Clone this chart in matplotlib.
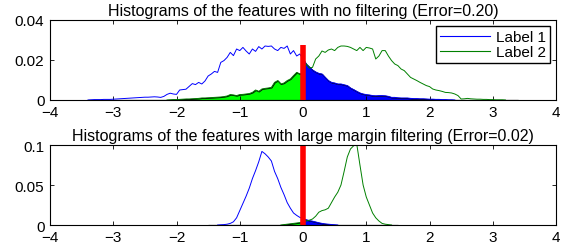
import numpy as np
import matplotlib
matplotlib.use('Agg')
import matplotlib.pyplot as plt
from matplotlib.lines import Line2D

plt.rcParams['font.family'] = ['Liberation Sans', 'DejaVu Sans']
plt.rcParams['font.size'] = 11

# bin centres
x_top = np.round(np.arange(-3.4, 3.4001, 0.05), 2)
x_bot = np.round(np.arange(-1.5, 1.5001, 0.05), 2)

# top panel: no filtering
label1_top = [0, 0.0001, 0.0002, 0.0002, 0.0002, 0.0003, 0.0003, 0.0003, 0.0004, 0.0005,
              0.0006, 0.0007, 0.0008, 0.0009, 0.001, 0.0011, 0.0012, 0.0013, 0.0014, 0.0014,
              0.0015, 0.0016, 0.0015,
              0.0013, 0.0018, 0.0028, 0.0034, 0.003, 0.0028, 0.005, 0.0052, 0.0054, 0.0068,
              0.0082, 0.0077, 0.0088, 0.008, 0.0095, 0.012, 0.013, 0.0143, 0.0138, 0.0188,
              0.0197, 0.0213, 0.0238, 0.0222, 0.0255, 0.0247, 0.0263, 0.0245, 0.023, 0.0255,
              0.0243, 0.0267, 0.0255, 0.027, 0.0268, 0.027, 0.0255, 0.0247, 0.0263, 0.0258,
              0.027, 0.023, 0.0247, 0.022, 0.023, 0.0205,
              0.018, 0.0165, 0.015, 0.014, 0.0133, 0.013, 0.0113, 0.0097, 0.0088, 0.0085,
              0.008, 0.008, 0.0076, 0.0072, 0.006, 0.0052, 0.0043, 0.0035, 0.003, 0.0027,
              0.0025, 0.0022, 0.0021, 0.0022, 0.0022, 0.0021, 0.0018, 0.0013, 0.0013, 0.0011,
              0.001, 0.001, 0.001, 0.0008, 0.0007, 0.0007, 0.0006, 0.0006, 0.0005, 0.0004,
              0.0004, 0.0003, 0.0003, 0.0002, 0.0002, 0.0001, 0.0001,
              0, 0, 0, 0, 0, 0, 0, 0, 0, 0, 0, 0, 0, 0, 0, 0, 0, 0, 0, 0, 0]
label2_top = [0] * 26 + [
              0.0001, 0.0002, 0.0002, 0.0003, 0.0004, 0.0005, 0.0005, 0.0006, 0.0007, 0.0008,
              0.001, 0.001, 0.0011, 0.0012, 0.0013, 0.0014, 0.0015, 0.0017, 0.002, 0.0027,
              0.0025, 0.0022, 0.0027, 0.0028, 0.003, 0.0032, 0.0038, 0.005, 0.0043, 0.0055,
              0.0058, 0.006, 0.0063, 0.0088, 0.0097, 0.008, 0.0085, 0.0097, 0.0105, 0.0122,
              0.0138, 0.013, 0.0138,
              0.018, 0.016, 0.0163, 0.0205, 0.022, 0.0245, 0.0238, 0.025, 0.0255, 0.0247,
              0.0263, 0.027, 0.027, 0.0268, 0.0263, 0.0255, 0.0247, 0.0263, 0.0247, 0.0263,
              0.026, 0.0255, 0.0205, 0.022, 0.0247, 0.0247, 0.022, 0.0197, 0.018, 0.0172,
              0.0155, 0.0147, 0.013, 0.0113, 0.0105, 0.0097, 0.0088, 0.008, 0.0072, 0.0067,
              0.0055, 0.005, 0.0047, 0.0043, 0.0038, 0.0037, 0.0035, 0.003, 0.0022, 0.0005,
              0.0006, 0.0008, 0.0006, 0.0005, 0.0004, 0.0004, 0.0003, 0.0003, 0.0002, 0.0002,
              0.0001, 0.0001, 0.0001, 0, 0, 0, 0, 0]

# bottom panel: large margin filtering
label1_bot = [0, 0, 0, 0, 0.0003, 0.0005, 0.001, 0.002, 0.004, 0.009,
              0.018, 0.027, 0.036, 0.046, 0.058, 0.068, 0.079, 0.092, 0.089, 0.085,
              0.080, 0.067, 0.058, 0.047, 0.038, 0.028, 0.021, 0.015, 0.012, 0.0095,
              0.008, 0.0066, 0.0055, 0.0048, 0.0038, 0.0028, 0.002, 0.0014, 0.001, 0.0006,
              0.0003] + [0] * 20
label2_bot = [0] * 24 + [
              0.0005, 0.001, 0.0015, 0.002, 0.0025, 0.003, 0.004, 0.005, 0.006, 0.0075,
              0.011, 0.016, 0.018, 0.019, 0.021, 0.028, 0.035, 0.041, 0.05, 0.067,
              0.085, 0.095, 0.099, 0.101, 0.075, 0.05, 0.035, 0.025, 0.015, 0.009,
              0.005, 0.002, 0.001, 0.0005, 0, 0, 0]

panels = [
    (x_top, label1_top, label2_top, 0.04, [0, 0.02, 0.04], ['0', '0.02', '0.04'], 0.0275,
     'Histograms of the features with no filtering (Error=0.20)'),
    (x_bot, label1_bot, label2_bot, 0.1, [0, 0.05, 0.1], ['0', '0.05', '0.1'], 0.1,
     'Histograms of the features with large margin filtering (Error=0.02)'),
]


def span(h):
    # only draw the line over the bins that hold something (plus one empty bin each side)
    nz = np.nonzero(h)[0]
    return slice(max(nz[0] - 1, 0), nz[-1] + 2)


fig = plt.figure(figsize=(5.78, 2.53), dpi=100)
rects = [[0.0865, 0.6008, 0.8755, 0.3162], [0.0865, 0.1067, 0.8755, 0.3162]]

for i, (rect, (x, h1, h2, ymax, yt, ytl, red_h, title)) in enumerate(zip(rects, panels)):
    x = np.asarray(x)
    h1 = np.asarray(h1)
    h2 = np.asarray(h2)
    ax = fig.add_axes(rect)
    s1, s2 = span(h1), span(h2)
    ax.plot(x[s1], h1[s1], color='#0000ff', lw=0.7)
    ax.plot(x[s2], h2[s2], color='#008000', lw=0.7)
    neg = x <= 0
    pos = x >= 0
    ax.fill_between(x[neg], h2[neg], color='#00ff00', edgecolor='k', lw=0.8)
    ax.fill_between(x[pos], h1[pos], color='#0000ff', edgecolor='k', lw=0.8)
    ax.plot([0, 0], [0, red_h], color='#ff0000', lw=4, solid_capstyle='butt')
    ax.set_xlim(-4, 4)
    ax.set_ylim(0, ymax)
    ax.set_xticks(range(-4, 5))
    ax.set_yticks(yt)
    ax.set_yticklabels(ytl)
    ax.tick_params(direction='in', top=True, right=True, length=3, width=0.6,
                   labelsize=11)
    ax.tick_params(axis='x', pad=3.5)
    ax.tick_params(axis='y', pad=4)
    for s in ax.spines.values():
        s.set_linewidth(0.8)
    ax.set_title(title, fontsize=11.5, pad=3.5)
    if i == 0:
        handles = [Line2D([], [], color='#0000ff', lw=0.8),
                   Line2D([], [], color='#008000', lw=0.8)]
        ax.legend(handles, ['Label 1', 'Label 2'], loc='upper right', fancybox=False,
                  edgecolor='k', framealpha=1, fontsize=11, handlelength=3.3,
                  borderpad=0.25, labelspacing=0.1, handletextpad=0.4,
                  borderaxespad=0.4)

fig.savefig('out.png', dpi=100)
